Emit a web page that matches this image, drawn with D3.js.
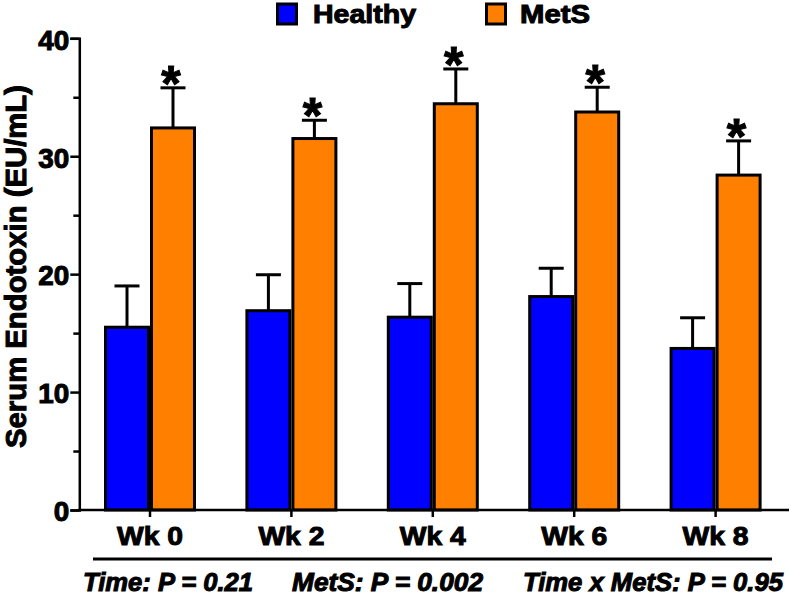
<!DOCTYPE html>
<html><head><meta charset="utf-8">
<script src="https://cdn.jsdelivr.net/npm/d3@7"></script>
<style>body{margin:0;background:#fff}svg{display:block}text{font-family:"Liberation Sans",Arial,sans-serif;font-weight:bold}</style>
</head><body><svg id="c" width="791" height="596"></svg>
<script>
const categories = ["Wk 0","Wk 2","Wk 4","Wk 6","Wk 8"];
const seriesNames = ["Healthy","MetS"];
const healthy = [15.5, 16.9, 16.35, 18.1, 13.7];
const healthySEM = [3.5, 3.05, 2.85, 2.4, 2.6];
const mets = [32.4, 31.5, 34.45, 33.75, 28.4];
const metsSEM = [3.4, 1.55, 2.95, 2.1, 2.9];
const significant = [true, true, true, true, true];
const yTicks = [0, 10, 20, 30, 40];
const yMinorTicks = [5, 15, 25, 35];
const colors = ["#0000FF", "#FF8000"];
const yLabel = "Serum Endotoxin (EU/mL)";
const stats = ["Time: P = 0.21", "MetS: P = 0.002", "Time x MetS: P = 0.95"];

const svg = d3.select("#c");
const y = d3.scaleLinear().domain([0,40]).range([510,38.3]);
const x = d3.scaleBand().domain(categories).range([79.3,786.3]).padding(0);
const xi = d3.scaleBand().domain(seriesNames).range([-44.5,44.5]).paddingInner(3/46).paddingOuter(0);

const data = categories.map((c,i)=>[
  {cat:c, s:"Healthy", v:healthy[i], e:healthySEM[i], sig:false, col:colors[0]},
  {cat:c, s:"MetS", v:mets[i], e:metsSEM[i], sig:significant[i], col:colors[1]}
]).flat();

const cx = d => x(d.cat) + x.bandwidth()/2 + xi(d.s) + xi.bandwidth()/2;
const bold = sel => sel.attr("stroke","#000").attr("stroke-width",1).attr("fill","#000");

// error bars
const eb = svg.append("g");
eb.selectAll("line.v").data(data).join("line")
  .attr("x1",cx).attr("x2",cx).attr("y1",d=>y(d.v)).attr("y2",d=>y(d.v+d.e))
  .attr("stroke","#000").attr("stroke-width",3);
eb.selectAll("line.c").data(data).join("line")
  .attr("x1",d=>cx(d)-12.5).attr("x2",d=>cx(d)+12.5).attr("y1",d=>y(d.v+d.e)).attr("y2",d=>y(d.v+d.e))
  .attr("stroke","#000").attr("stroke-width",3);

// bars
svg.append("g").selectAll("rect").data(data).join("rect")
  .attr("x",d=>x(d.cat)+x.bandwidth()/2+xi(d.s))
  .attr("width",xi.bandwidth())
  .attr("y",d=>y(d.v)).attr("height",d=>y(0)-y(d.v))
  .attr("fill",d=>d.col).attr("stroke","#000").attr("stroke-width",3);

// asterisks
svg.append("g").selectAll("text").data(data.filter(d=>d.sig)).join("text")
  .attr("x",d=>cx(d)-2).attr("y",d=>y(d.v+d.e)+13)
  .attr("text-anchor","middle").attr("font-size",50).text("*").call(bold);

// y axis
const ya = svg.append("g").attr("transform","translate(79.3,0)")
  .call(d3.axisLeft(y).tickValues(yTicks).tickSize(9).tickPadding(1).tickFormat(d3.format("d")));
ya.select(".domain").attr("stroke-width",2.5);
ya.selectAll(".tick line").attr("stroke-width",2.5);
ya.selectAll(".tick text").attr("font-size",27).attr("font-family","Liberation Sans, Arial").attr("font-weight","bold")
  .attr("dy","0.4em").attr("textLength",31).attr("lengthAdjust","spacingAndGlyphs").call(bold);
ya.selectAll(".tick text").filter(d=>d===0).attr("textLength",15.5);
const ym = svg.append("g").attr("transform","translate(79.3,0)")
  .call(d3.axisLeft(y).tickValues(yMinorTicks).tickSize(6).tickFormat(""));
ym.select(".domain").remove();
ym.selectAll(".tick line").attr("stroke-width",2.5);

// x axis
const xa = svg.append("g").attr("transform","translate(0,510)")
  .call(d3.axisBottom(x).tickSize(7).tickSizeOuter(0).tickPadding(4));
xa.select(".domain").attr("stroke-width",2.5).attr("d","M78,0H789");
xa.selectAll(".tick line").attr("stroke-width",2.5);
xa.selectAll(".tick text").attr("font-size",26.5).attr("font-family","Liberation Sans, Arial").attr("font-weight","bold")
  .attr("dy",null).attr("y",35).attr("textLength",66).attr("lengthAdjust","spacingAndGlyphs").call(bold);

// y label
svg.append("text").attr("transform","translate(25.5,266.5) rotate(-90)")
  .attr("text-anchor","middle").attr("font-size",29)
  .attr("textLength",363).attr("lengthAdjust","spacingAndGlyphs").text(yLabel).call(bold);

// legend
const legX = [276, 485], legTX = [313, 520], legTL = [103, 70];
seriesNames.forEach((s,i)=>{
  svg.append("rect").attr("x",legX[i]+1.5).attr("y",4).attr("width",19).attr("height",20)
    .attr("fill",colors[i]).attr("stroke","#000").attr("stroke-width",3);
  svg.append("text").attr("x",legTX[i]).attr("y",23.3).attr("font-size",25.5)
    .attr("textLength",legTL[i]).attr("lengthAdjust","spacingAndGlyphs").text(s).call(bold);
});

// underline and stats
svg.append("line").attr("x1",93).attr("x2",772).attr("y1",559).attr("y2",559).attr("stroke","#000").attr("stroke-width",3);
const statX = [83, 292, 523], statW = [170, 191, 260];
stats.forEach((s,i)=>{
  svg.append("text").attr("x",statX[i]).attr("y",590.5).attr("font-size",25).attr("font-style","italic")
    .attr("textLength",statW[i]).attr("lengthAdjust","spacingAndGlyphs").text(s).call(bold);
});
</script></body></html>
